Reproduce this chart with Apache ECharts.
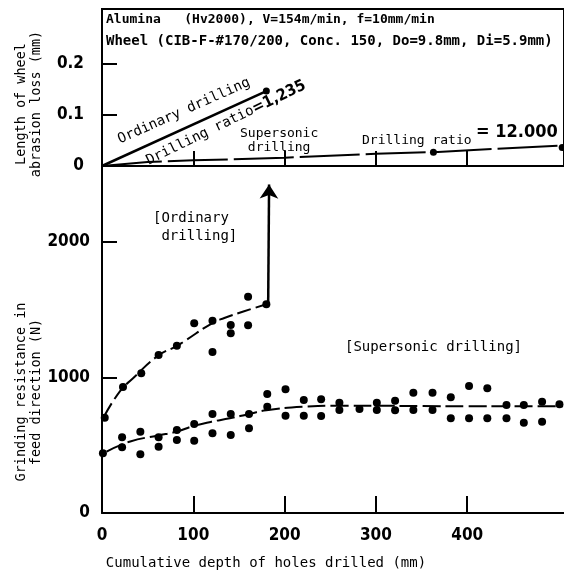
<!DOCTYPE html>
<html>
<head>
<meta charset="utf-8">
<script src="https://cdn.jsdelivr.net/npm/echarts@6/dist/echarts.min.js"></script>
<style>
html,body{margin:0;padding:0;background:#fff;}
#c{width:564px;height:576px;}
</style>
</head>
<body>
<div id="c"></div>
<script>
// ---- data ----
const xTickLabels = [0, 100, 200, 300, 400];
const lossTickLabels = [0, 0.1, 0.2];
const forceTickLabels = [0, 1000, 2000];

// top panel: length of wheel abrasion loss (mm)
const ordLossDepth = [0, 180];
const ordLossValue = [0, 0.146];
const supLossDepth = [0, 50, 100, 200, 300, 363, 504];
const supLossValue = [0, 0.008, 0.011, 0.016, 0.024, 0.027, 0.040];
const lossDotDepth = [180, 363, 504];
const lossDotValue = [0.146, 0.027, 0.036];

// bottom panel: grinding resistance (N)
const ordDepth = [3, 23, 43, 62, 82, 101, 121, 121, 141, 141, 160, 160, 180];
const ordForce = [702, 928, 1029, 1164, 1233, 1398, 1417, 1186, 1385, 1324, 1594, 1383, 1538];
const ordFitDepth = [3, 20, 34, 61, 82, 90, 121, 134, 154, 180];
const ordFitForce = [720, 900, 993, 1157, 1231, 1265, 1400, 1437, 1483, 1538];
const arrowDepth = [182, 183];
const arrowForce = [1540, 2420];

const supDepth = [1, 22, 22, 42, 42, 62, 62, 82, 82, 101, 101, 121, 121, 141, 141, 161, 161,
  181, 181, 201, 201, 221, 221, 240, 240, 260, 260, 282, 301, 301, 321, 321, 341, 341, 362, 362,
  382, 382, 402, 402, 422, 422, 443, 443, 462, 462, 482, 482, 501];
const supForce = [440, 558, 484, 599, 433, 558, 489, 612, 538, 656, 533, 730, 587, 730, 575, 730, 624,
  877, 783, 912, 717, 833, 717, 838, 715, 813, 759, 766, 813, 759, 828, 758, 886, 759, 886, 759,
  853, 698, 936, 698, 919, 698, 796, 698, 796, 665, 820, 673, 801];
const supFitDepth = [5, 30, 60, 82, 100, 120, 140, 160, 180, 220, 260, 300, 350, 400, 450, 505];
const supFitForce = [452, 525, 570, 600, 641, 673, 698, 728, 757, 783, 790, 790, 788, 786, 786, 786];

const zip = (a, b) => a.map((v, i) => [v, b[i]]);

const MONO = "'DejaVu Sans Mono', 'Liberation Mono', monospace";
const NUM = "'DejaVu Sans Condensed', 'DejaVu Sans', sans-serif";
const deg = d => d * Math.PI / 180;

const chart = echarts.init(document.getElementById('c'), null, {renderer: 'canvas'});

const axisLineStyle = {color: '#000', width: 2};
const xAxisCommon = {
  type: 'value', min: 0, max: 506, interval: 100,
  axisLine: {show: true, onZero: false, lineStyle: axisLineStyle},
  axisTick: {show: true, inside: true, length: 15, lineStyle: {color: '#000', width: 2}, customValues: [100, 200, 300, 400]},
  splitLine: {show: false}
};

const option = {
  animation: false,
  backgroundColor: '#fff',
  grid: [
    {left: 102, right: 0, top: 9, height: 157, show: true, borderColor: '#000', borderWidth: 2, backgroundColor: 'transparent'},
    {left: 102, right: 0, top: 166, height: 347}
  ],
  xAxis: [
    Object.assign({}, xAxisCommon, {gridIndex: 0, axisLabel: {show: false}}),
    Object.assign({}, xAxisCommon, {gridIndex: 1,
      axisTick: Object.assign({}, xAxisCommon.axisTick, {length: 17}),
      axisLabel: {show: true, customValues: xTickLabels, margin: 14, color: '#000',
        fontFamily: NUM, fontWeight: 'bold', fontSize: 17, formatter: v => String(v)}})
  ],
  yAxis: [
    {gridIndex: 0, type: 'value', min: 0, max: 0.3057, interval: 0.1,
      axisLine: {show: true, lineStyle: axisLineStyle},
      axisTick: {show: true, inside: true, length: 15, lineStyle: {color: '#000', width: 2}, customValues: [0.1, 0.2]},
      axisLabel: {show: true, customValues: lossTickLabels, margin: 18, color: '#000',
        fontFamily: NUM, fontWeight: 'bold', fontSize: 17,
        formatter: v => v === 0 ? '0' : v.toFixed(1)},
      splitLine: {show: false}},
    {gridIndex: 1, type: 'value', min: 0, max: 2557, interval: 1000,
      axisLine: {show: true, lineStyle: axisLineStyle},
      axisTick: {show: true, inside: true, length: 15, lineStyle: {color: '#000', width: 2}, customValues: [1000, 2000]},
      axisLabel: {show: true, customValues: forceTickLabels, margin: 12, color: '#000',
        fontFamily: NUM, fontWeight: 'bold', fontSize: 17, formatter: v => String(v)},
      splitLine: {show: false}}
  ],
  series: [
    {type: 'line', xAxisIndex: 0, yAxisIndex: 0, data: zip(ordLossDepth, ordLossValue),
      showSymbol: false, lineStyle: {color: '#000', width: 2.5}},
    {type: 'line', xAxisIndex: 0, yAxisIndex: 0, data: zip(supLossDepth, supLossValue),
      showSymbol: false, lineStyle: {color: '#000', width: 2, type: [60, 6]}},
    {type: 'scatter', xAxisIndex: 0, yAxisIndex: 0, data: zip(lossDotDepth, lossDotValue),
      symbolSize: 7, itemStyle: {color: '#000', opacity: 1}},

    {type: 'line', xAxisIndex: 1, yAxisIndex: 1, data: zip(ordFitDepth, ordFitForce), smooth: true,
      showSymbol: false, lineStyle: {color: '#000', width: 2, type: [14, 5]}},
    {type: 'lines', coordinateSystem: 'cartesian2d', xAxisIndex: 1, yAxisIndex: 1,
      data: [{coords: zip(arrowDepth, arrowForce)}],
      symbol: ['none', 'arrow'], symbolSize: [7, 14],
      lineStyle: {color: '#000', width: 2.5, opacity: 1}},
    {type: 'scatter', xAxisIndex: 1, yAxisIndex: 1, data: zip(ordDepth, ordForce),
      symbolSize: 8, itemStyle: {color: '#000', opacity: 1}},

    {type: 'line', xAxisIndex: 1, yAxisIndex: 1, data: zip(supFitDepth, supFitForce), smooth: true,
      showSymbol: false, lineStyle: {color: '#000', width: 2, type: [18, 5]}},
    {type: 'scatter', xAxisIndex: 1, yAxisIndex: 1, data: zip(supDepth, supForce),
      symbolSize: 8, itemStyle: {color: '#000', opacity: 1}}
  ],
  graphic: [
    {type: 'text', x: 106, y: 20, style: {text: 'Alumina   (Hv2000), V=154m/min, f=10mm/min',
      fontFamily: MONO, fontWeight: 'bold', fontSize: 13, fill: '#000', verticalAlign: 'middle'}},
    {type: 'text', x: 106, y: 41, style: {text: 'Wheel (CIB-F-#170/200, Conc. 150, Do=9.8mm, Di=5.9mm)',
      fontFamily: MONO, fontWeight: 'bold', fontSize: 14, fill: '#000', verticalAlign: 'middle'}},
    {type: 'text', x: 184, y: 111, rotation: deg(24), style: {text: 'Ordinary drilling',
      fontFamily: MONO, fontSize: 14, fill: '#000', align: 'center', verticalAlign: 'middle'}},
    {type: 'text', x: 226, y: 123, rotation: deg(26), style: {
      text: '{a|Drilling ratio}{b|=1,235}', align: 'center', verticalAlign: 'middle', fill: '#000',
      rich: {a: {fontFamily: MONO, fontSize: 14, fill: '#000'}, b: {fontFamily: NUM, fontWeight: 'bold', fontSize: 16, fill: '#000'}}}},
    {type: 'text', x: 240, y: 141, style: {text: 'Supersonic\n drilling', lineHeight: 14,
      fontFamily: MONO, fontSize: 13, fill: '#000', verticalAlign: 'middle'}},
    {type: 'text', x: 362, y: 141, style: {text: 'Drilling ratio',
      fontFamily: MONO, fontSize: 13, fill: '#000', verticalAlign: 'middle'}},
    {type: 'text', x: 476, y: 132, style: {text: '= 12.000',
      fontFamily: NUM, fontWeight: 'bold', fontSize: 18, fill: '#000', verticalAlign: 'middle'}},

    {type: 'text', x: 153, y: 227, style: {text: '[Ordinary\n drilling]', lineHeight: 18,
      fontFamily: MONO, fontSize: 14, fill: '#000', verticalAlign: 'middle'}},
    {type: 'text', x: 345, y: 347, style: {text: '[Supersonic drilling]',
      fontFamily: MONO, fontSize: 14, fill: '#000', verticalAlign: 'middle'}},

    {type: 'text', x: 29, y: 104, rotation: deg(90), style: {text: 'Length of wheel\nabrasion loss (mm)', lineHeight: 15,
      fontFamily: MONO, fontSize: 13.5, fill: '#000', align: 'center', verticalAlign: 'middle'}},
    {type: 'text', x: 29, y: 392, rotation: deg(90), style: {text: 'Grinding resistance in\nfeed direction (N)', lineHeight: 15,
      fontFamily: MONO, fontSize: 13.5, fill: '#000', align: 'center', verticalAlign: 'middle'}},
    {type: 'text', x: 266, y: 563, style: {text: 'Cumulative depth of holes drilled (mm)',
      fontFamily: MONO, fontSize: 14, fill: '#000', align: 'center', verticalAlign: 'middle'}}
  ]
};
chart.setOption(option);
</script>
</body>
</html>
